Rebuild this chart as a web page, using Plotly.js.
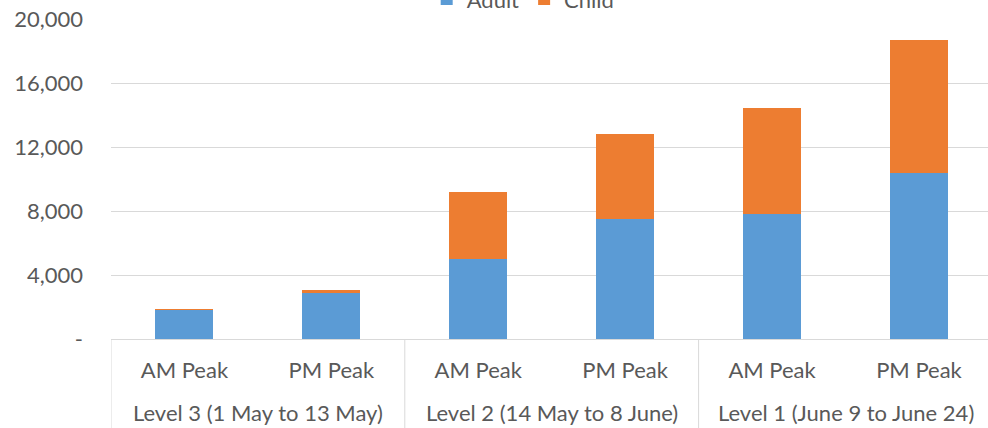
<!DOCTYPE html>
<html>
<head>
<meta charset="utf-8">
<script src="https://cdn.plot.ly/plotly-3.0.1.min.js"></script>
<style>html,body{margin:0;padding:0;background:#fff;}#chart{width:988px;height:428px;}</style>
</head>
<body>
<div id="chart"></div>
<script>
var levels = ["Level 3 (1 May to 13 May)", "Level 3 (1 May to 13 May)",
              "Level 2 (14 May to 8 June)", "Level 2 (14 May to 8 June)",
              "Level 1 (June 9 to June 24)", "Level 1 (June 9 to June 24)"];
var peaks = ["AM Peak", "PM Peak", "AM Peak", "PM Peak", "AM Peak", "PM Peak"];
var adult = [1800, 2850, 5000, 7500, 7800, 10400];
var child = [50, 200, 4190, 5310, 6640, 8300];
var yTickVals = [0, 4000, 8000, 12000, 16000, 20000];
var yTickText = ["-", "4,000", "8,000", "12,000", "16,000", "20,000"];

var font = {family: "Lato, Open Sans, sans-serif", size: 22, color: "#595959"};
var gridColor = "#d9d9d9";

// unique category keys built from the two label levels
var keys = levels.map(function (l, i) { return l + " | " + peaks[i]; });

// group spans (start/end category index) derived from the levels array
var groups = [];
levels.forEach(function (l, i) {
  var g = groups[groups.length - 1];
  if (g && g.name === l) { g.end = i; } else { groups.push({name: l, start: i, end: i}); }
});

var annotations = groups.map(function (g) {
  return {text: g.name, xref: "x", yref: "paper", x: (g.start + g.end) / 2, y: -0.23,
          xanchor: "center", yanchor: "middle", showarrow: false, font: font};
});
var shapes = [];
groups.forEach(function (g, k) {
  if (k === 0) shapes.push({type: "line", xref: "x", yref: "paper", x0: g.start - 0.5, x1: g.start - 0.5,
                            y0: 0, y1: -0.3, line: {color: gridColor, width: 1}});
  shapes.push({type: "line", xref: "x", yref: "paper", x0: g.end + 0.5, x1: g.end + 0.5,
               y0: 0, y1: -0.3, line: {color: gridColor, width: 1}});
});

var traces = [
  {type: "bar", name: "Adult", x: keys, y: adult, marker: {color: "#5b9bd5"}, hoverinfo: "y"},
  {type: "bar", name: "Child", x: keys, y: child, marker: {color: "#ed7d31"}, hoverinfo: "y"}
];

var layout = {
  width: 988, height: 428,
  margin: {l: 111, r: 0, t: 19, b: 89, autoexpand: false},
  barmode: "stack",
  bargap: 0.605,
  paper_bgcolor: "#ffffff",
  plot_bgcolor: "#ffffff",
  font: font,
  showlegend: true,
  legend: {orientation: "h", x: 0.47, xanchor: "center", y: 1.062, yanchor: "middle",
           font: font, traceorder: "normal"},
  annotations: annotations,
  shapes: shapes,
  xaxis: {
    type: "category",
    range: [-0.5, 5.47],
    tickvals: keys, ticktext: peaks,
    showline: true, linecolor: gridColor, linewidth: 1,
    tickfont: font, tickangle: 0, ticklabelstandoff: 12,
    ticks: "", showgrid: false, zeroline: false
  },
  yaxis: {
    range: [0, 20000],
    tickvals: yTickVals, ticktext: yTickText,
    showgrid: true, gridcolor: gridColor, gridwidth: 1,
    zeroline: false, showline: false,
    tickfont: font,
    ticklabelstandoff: 27
  }
};

Plotly.newPlot("chart", traces, layout, {displayModeBar: false, staticPlot: true});
</script>
</body>
</html>
